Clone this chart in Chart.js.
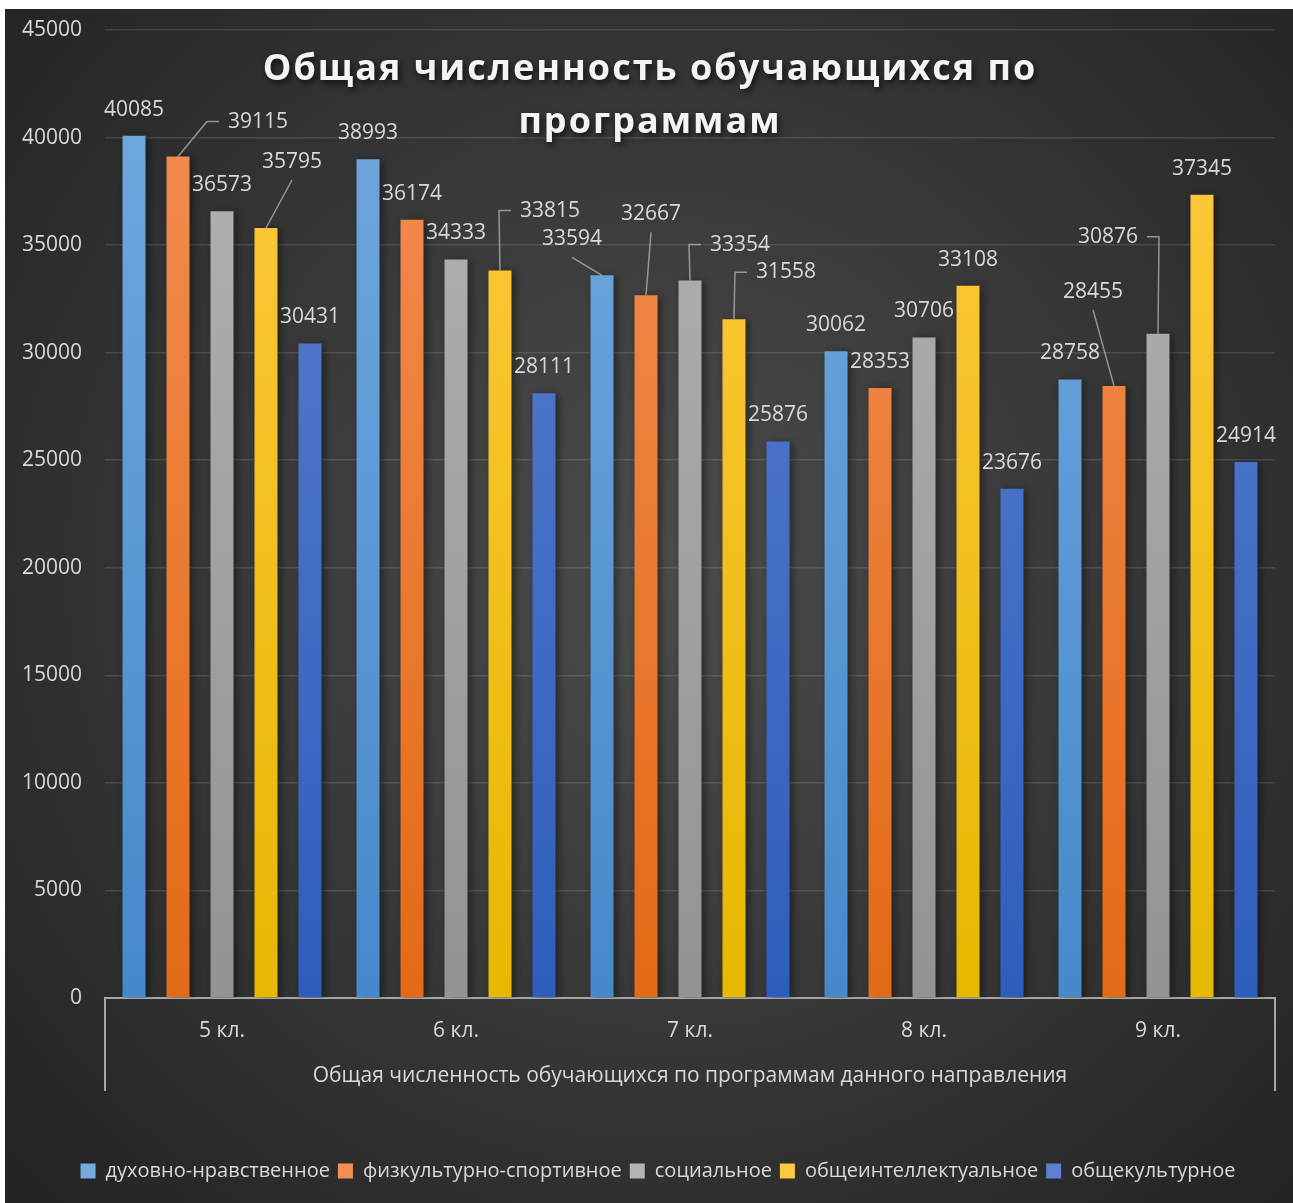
<!DOCTYPE html>
<html lang="ru">
<head>
<meta charset="utf-8">
<title>Общая численность обучающихся по программам</title>
<script src="https://cdn.jsdelivr.net/npm/chart.js@4.4.1/dist/chart.umd.min.js"></script>
<style>
  html, body { margin: 0; padding: 0; background: #fff; }
  #wrap { position: absolute; left: 5px; top: 9px; width: 1288px; height: 1194px; }
</style>
</head>
<body>
<div id="wrap"><canvas id="chart" width="1288" height="1194"></canvas></div>
<script>
// --- data ---
const categories = ['5 кл.', '6 кл.', '7 кл.', '8 кл.', '9 кл.'];
const seriesNames = ['духовно-нравственное', 'физкультурно-спортивное', 'социальное', 'общеинтеллектуальное', 'общекультурное'];
const dukhovnoe = [40085, 38993, 33594, 30062, 28758];
const fizkult = [39115, 36174, 32667, 28353, 28455];
const socialnoe = [36573, 34333, 33354, 30706, 30876];
const intellekt = [35795, 33815, 31558, 33108, 37345];
const kultura = [30431, 28111, 25876, 23676, 24914];
const yTicks = [0, 5000, 10000, 15000, 20000, 25000, 30000, 35000, 40000, 45000];
const groupLabel = 'Общая численность обучающихся по программам данного направления';
const chartTitle = ['Общая численность обучающихся по', 'программам'];

// colours (top / bottom of gradient)
const palette = [
  ['#73aae0', '#4689cb'],
  ['#f48f55', '#e36a16'],
  ['#b4b4b4', '#939393'],
  ['#ffca42', '#e6b800'],
  ['#5b81d0', '#2e5ebc']
];
const FONT = '"Open Sans", "DejaVu Sans", sans-serif';
const TEXT = '#d9d9d9';

// labels that Excel moved off the bar end: key "dataset-index" -> [dx, dy] from bar top
const movedLabels = {
  '1-0': [80, -35], '3-0': [26, -66], '3-1': [50, -60],
  '0-2': [-30, -36], '1-2': [5, -81], '2-2': [50, -36], '3-2': [52, -47],
  '1-4': [-21, -94], '2-4': [-50, -97]
};

function grad(ctx, chartArea, i) {
  const g = ctx.createLinearGradient(0, chartArea.top, 0, chartArea.bottom);
  g.addColorStop(0, palette[i][0]);
  g.addColorStop(1, palette[i][1]);
  return g;
}

const background = {
  id: 'background',
  afterLayout(chart) {
    // Excel centres the legend a little right of the canvas centre
    chart.legend.left += 18;
    chart.legend.right += 18;
  },
  beforeDraw(chart) {
    const { ctx, width, height } = chart;
    const g = ctx.createRadialGradient(660, 560, 20, 660, 560, 900);
    g.addColorStop(0, '#4b4b4b');
    g.addColorStop(1, '#232323');
    ctx.save();
    ctx.fillStyle = g;
    ctx.fillRect(0, 0, width, height);
    ctx.restore();
  }
};

const barShadow = {
  id: 'barShadow',
  beforeDatasetsDraw(chart) {
    const ctx = chart.ctx;
    ctx.save();
    ctx.shadowColor = 'rgba(0,0,0,0.45)';
    ctx.shadowBlur = 8;
    ctx.shadowOffsetX = 3;
    ctx.shadowOffsetY = 1;
  },
  afterDatasetsDraw(chart) {
    chart.ctx.restore();
  }
};

const valueLabels = {
  id: 'valueLabels',
  afterDatasetsDraw(chart) {
    const ctx = chart.ctx;
    ctx.save();
    ctx.font = '21px ' + FONT;
    ctx.textAlign = 'center';
    ctx.textBaseline = 'middle';
    chart.data.datasets.forEach((ds, di) => {
      chart.getDatasetMeta(di).data.forEach((bar, i) => {
        const text = String(ds.data[i]);
        const bx = bar.x, by = bar.y;
        const shift = movedLabels[di + '-' + i];
        let lx = bx, ly = by - 26;
        if (shift) {
          lx = bx + shift[0];
          ly = by + shift[1];
          const hw = ctx.measureText(text).width / 2;
          ctx.strokeStyle = 'rgba(190,190,190,0.7)';
          ctx.lineWidth = 1.5;
          ctx.beginPath();
          ctx.moveTo(bx, by);
          if (Math.abs(shift[0]) >= 40) {
            const s = shift[0] > 0 ? -1 : 1;
            const edge = lx + s * hw;
            ctx.lineTo(edge + s * 21, ly);
            ctx.lineTo(edge + s * 9, ly);
          } else {
            ctx.lineTo(lx, ly + 18);
          }
          ctx.stroke();
        }
        ctx.fillStyle = TEXT;
        ctx.fillText(text, lx, ly);
      });
    });
    ctx.restore();
  }
};

const axisGroup = {
  id: 'axisGroup',
  afterDraw(chart) {
    const { ctx, chartArea } = chart;
    const bottom = chartArea.bottom + 93;
    ctx.save();
    ctx.strokeStyle = '#a6a6a6';
    ctx.lineWidth = 2;
    ctx.beginPath();
    ctx.moveTo(chartArea.left, chartArea.bottom);
    ctx.lineTo(chartArea.left, bottom);
    ctx.moveTo(chartArea.right, chartArea.bottom);
    ctx.lineTo(chartArea.right, bottom);
    ctx.stroke();
    ctx.fillStyle = TEXT;
    ctx.font = '21px ' + FONT;
    ctx.textAlign = 'center';
    ctx.textBaseline = 'middle';
    ctx.fillText(groupLabel, (chartArea.left + chartArea.right) / 2, chartArea.bottom + 78);

    // title
    ctx.font = 'bold 36px ' + FONT;
    ctx.letterSpacing = '2px';
    ctx.shadowColor = 'rgba(0,0,0,0.7)';
    ctx.shadowBlur = 6;
    ctx.shadowOffsetX = 2;
    ctx.shadowOffsetY = 3;
    ctx.fillStyle = '#f4f4f4';
    ctx.fillText(chartTitle[0], 645, 61);
    ctx.fillText(chartTitle[1], 645, 114);
    ctx.restore();
  }
};

const datasets = [dukhovnoe, fizkult, socialnoe, intellekt, kultura].map((values, i) => ({
  label: seriesNames[i],
  data: values,
  backgroundColor: c => c.chart.chartArea ? grad(c.chart.ctx, c.chart.chartArea, i) : palette[i][0],
  borderWidth: 0,
  categoryPercentage: 0.94,
  barPercentage: 0.523
}));

new Chart(document.getElementById('chart'), {
  type: 'bar',
  data: { labels: categories, datasets: datasets },
  options: {
    responsive: false,
    animation: false,
    layout: { padding: { top: 21, right: 18, left: 0, bottom: 12 } },
    scales: {
      y: {
        min: 0,
        max: 45000,
        afterBuildTicks: axis => { axis.ticks = yTicks.map(v => ({ value: v })); },
        afterFit: axis => { axis.width = 100; axis.paddingTop = 0; axis.paddingBottom = 0; },
        ticks: { color: TEXT, font: { family: FONT, size: 21 }, padding: 23, callback: v => String(v) },
        grid: { color: 'rgba(255,255,255,0.12)', lineWidth: 1.5, drawTicks: false },
        border: { display: false }
      },
      x: {
        afterFit: axis => { axis.height = 155; },
        ticks: { color: TEXT, font: { family: FONT, size: 21 }, padding: 20 },
        grid: { display: false, drawTicks: false },
        border: { display: true, color: '#a6a6a6', width: 2 }
      }
    },
    plugins: {
      title: { display: false },
      tooltip: { enabled: false },
      legend: {
        position: 'bottom',
        labels: {
          color: TEXT,
          font: { family: FONT, size: 20 },
          boxWidth: 15,
          boxHeight: 15,
          padding: 8,
          generateLabels: chart => chart.data.datasets.map((ds, i) => ({
            text: ds.label,
            fillStyle: palette[i][0],
            strokeStyle: palette[i][0],
            lineWidth: 0,
            fontColor: TEXT,
            datasetIndex: i
          }))
        }
      }
    }
  },
  plugins: [background, barShadow, valueLabels, axisGroup]
});
</script>
</body>
</html>
